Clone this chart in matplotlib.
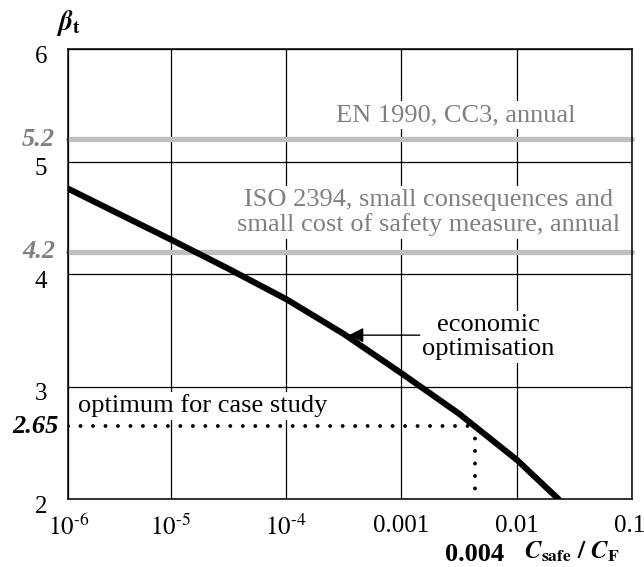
import numpy as np
import matplotlib
matplotlib.use("Agg")
import matplotlib.pyplot as plt
from matplotlib.transforms import ScaledTranslation

plt.rcParams['font.family'] = ['Liberation Serif', 'DejaVu Serif']
plt.rcParams['mathtext.fontset'] = 'stix'

# curve: C_safe / C_F vs target beta
cost_ratio = [1.3e-6, 1e-5, 3.16e-5, 1e-4, 3.16e-4, 1e-3, 3.16e-3, 4.3e-3, 1e-2, 2.3e-2]
beta_opt = [4.76, 4.31, 4.05, 3.78, 3.47, 3.12, 2.76, 2.65, 2.35, 2.00]

# code targets
beta_en1990 = 5.2
beta_iso2394 = 4.2

# optimum for the case study
opt_x = 4.3e-3
opt_beta = 2.65

x_ticks = [1.3e-6, 1e-5, 1e-4, 1e-3, 1e-2, 1e-1]
x_labels = [r'$10^{\text{-}6}$', r'$10^{\text{-}5}$', r'$10^{\text{-}4}$', '0.001', '0.01', '0.1']
y_ticks = [2, 3, 4, 5, 6]

fig = plt.figure(figsize=(6.44, 5.67), dpi=100)
ax = fig.add_axes([0.106, 0.1194, 0.876, 0.7937])
ax.set_xscale('log')
ax.set_xlim(x_ticks[0], x_ticks[-1])
ax.set_ylim(2, 6)

ax.set_xticks(x_ticks)
ax.set_xticklabels(x_labels)
ax.minorticks_off()
ax.set_yticks(y_ticks)
ax.tick_params(length=0, labelsize=18, colors='black')
ax.tick_params(axis='y', pad=15)
ax.tick_params(axis='x', pad=11)
for lbl in ax.get_yticklabels():
    lbl.set_transform(lbl.get_transform() + ScaledTranslation(0, -5 / 100, fig.dpi_scale_trans))
last = ax.get_xticklabels()[-1]
last.set_transform(last.get_transform() + ScaledTranslation(-3 / 100, 0, fig.dpi_scale_trans))

ax.set_axisbelow(True)
ax.grid(True, color='black', lw=0.9)
for s in ax.spines.values():
    s.set_linewidth(1.1)
    s.set_color('black')

# gray code lines
for b in [beta_en1990, beta_iso2394]:
    ax.axhline(b, color='#c0c0c0', lw=3.8, solid_capstyle='round', clip_on=False, zorder=2)

for b in [beta_en1990, beta_iso2394]:
    ax.annotate(f'{b:.1f}', xy=(0, b), xycoords=('axes fraction', 'data'),
                xytext=(-9.5, 0), textcoords='offset points', ha='right', va='center',
                fontsize=19, color='#808080', fontweight='bold', fontstyle='italic')

box = dict(facecolor='white', edgecolor='none', pad=2)
ax.text(0.687, 5.416, 'EN 1990, CC3, annual', transform=ax.get_yaxis_transform(),
        ha='center', va='center', fontsize=19, color='#808080', bbox=box, zorder=3)
ax.text(0.978, 4.55, 'ISO 2394, small consequences and\nsmall cost of safety measure, annual',
        transform=ax.get_yaxis_transform(), ha='right', va='center', multialignment='center',
        fontsize=19, color='#808080', bbox=box, zorder=3, linespacing=1.12)

# economic optimisation curve
ax.plot(cost_ratio, beta_opt, color='black', lw=4.4, solid_capstyle='round',
        solid_joinstyle='round', zorder=5)

# optimum dotted lines
dot = dict(color='black', lw=2.8, linestyle=(0, (0.01, 3.2)), dash_capstyle='round', zorder=4)
ax.plot([x_ticks[0], opt_x], [opt_beta, opt_beta], **dot)
ax.plot([opt_x, opt_x], [opt_beta, 2], clip_on=False, **dot)

ax.text(0.017, 2.83, 'optimum for case study', transform=ax.get_yaxis_transform(),
        ha='left', va='center', fontsize=19, color='black', bbox=box, zorder=3)
ax.annotate(f'{opt_beta:.2f}', xy=(0, opt_beta), xycoords=('axes fraction', 'data'),
            xytext=(-7, 0), textcoords='offset points', ha='right', va='center',
            fontsize=19, color='black', fontweight='bold', fontstyle='italic')
ax.annotate('0.004', xy=(opt_x, 0), xycoords=('data', 'axes fraction'),
            xytext=(0, -40), textcoords='offset points', ha='center', va='center',
            fontsize=19, color='black', fontweight='bold')

# arrow to the curve
tip_x = 3.5e-4
tip_y = np.interp(np.log10(tip_x), np.log10(cost_ratio), beta_opt) + 0.02
ax.annotate('', xy=(tip_x, tip_y), xytext=(1.44e-3, tip_y),
            arrowprops=dict(arrowstyle='-|>', color='black', lw=1.0, mutation_scale=22,
                            shrinkA=0, shrinkB=0), zorder=4)
ax.text(0.744, 3.44, 'economic\noptimisation', transform=ax.get_yaxis_transform(),
        ha='center', va='center', multialignment='center', fontsize=19, color='black',
        bbox=box, zorder=3, linespacing=1.12)

# axis titles
fig.text(68 / 644, 1 - 23 / 567, r'$\mathbfit{\beta}_\mathbf{t}$', ha='center', va='center', fontsize=20)
ax.annotate(r'$\mathbfit{C}_\mathbf{safe}\ \mathbf{/}\ \mathbfit{C}_\mathbf{F}$', xy=(0.893, 0),
            xycoords='axes fraction', xytext=(0, -38), textcoords='offset points',
            ha='center', va='center', fontsize=18, color='black')

fig.savefig('out.png', dpi=100)
